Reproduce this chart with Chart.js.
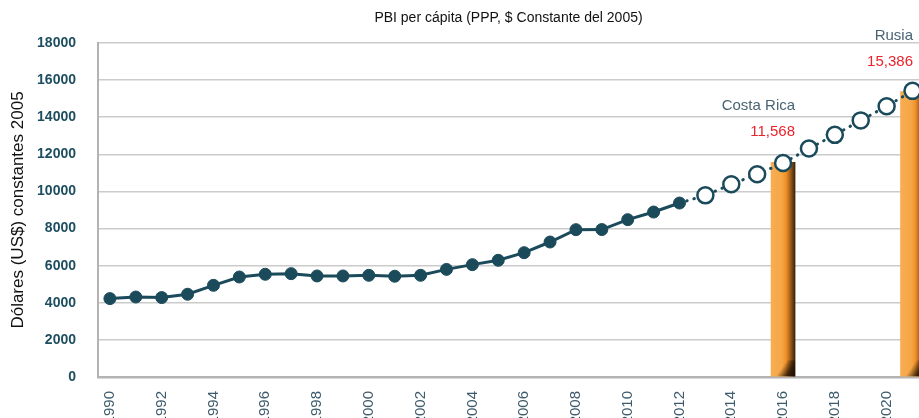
<!DOCTYPE html>
<html>
<head>
<meta charset="utf-8">
<script src="https://cdn.jsdelivr.net/npm/chart.js@4/dist/chart.umd.min.js"></script>
<style>
  html, body { margin: 0; background: #fff; overflow: hidden; }
</style>
</head>
<body>
<!-- a little wider than the window: the plot runs off the right edge, as in the original -->
<canvas id="pbi-chart" width="930" height="418"></canvas>
<script>
// data
const years = [1990, 1991, 1992, 1993, 1994, 1995, 1996, 1997, 1998, 1999, 2000, 2001, 2002, 2003, 2004, 2005,
  2006, 2007, 2008, 2009, 2010, 2011, 2012, 2013, 2014, 2015, 2016, 2017, 2018, 2019, 2020, 2021];
// 1990-2012 observed (filled dots)
const actualValues = [4225, 4310, 4280, 4460, 4940, 5390, 5535, 5570, 5445, 5445, 5480, 5430, 5480, 5800, 6055, 6290,
  6700, 7275, 7940, 7945, 8480, 8890, 9375];
// 2013-2021 projected (hollow dots)
const projectedValues = [9790, 10385, 10925, 11530, 12310, 13050, 13830, 14590, 15420];
const tickYears = [1990, 1992, 1994, 1996, 1998, 2000, 2002, 2004, 2006, 2008, 2010, 2012, 2014, 2016, 2018, 2020];
const yTicks = [0, 2000, 4000, 6000, 8000, 10000, 12000, 14000, 16000, 18000];

const barCountries = ["Costa Rica", "Rusia"];
const barYears = [2016, 2021];
const barValues = [11568, 15386];
const barValueLabels = ["11,568", "15,386"];

const titleText = "PBI per cápita (PPP, $ Constante del 2005)";
const yTitle = "Dólares (US$) constantes 2005";

const FONT = "'Liberation Sans Narrow', 'Liberation Sans', Arial, sans-serif";
const teal = "#1b4a5b";
const lastActual = actualValues.length - 1;
const VISIBLE_RIGHT = 919; // window edge

const allValues = actualValues.concat(projectedValues);
const lineData = years.map((yr, i) => ({ x: yr, y: allValues[i] }));
const barData = barYears.map((yr, i) => ({ x: yr, y: barValues[i] }));

// orange bar with dark right edge
function barFill(ctx) {
  const chart = ctx.chart;
  if (!chart.chartArea || ctx.raw === undefined) return "#f5a442";
  const cx = chart.scales.x.getPixelForValue(ctx.raw.x);
  const g = chart.ctx.createLinearGradient(cx - 12, 0, cx + 12, 0);
  g.addColorStop(0, "#f7ad52");
  g.addColorStop(0.45, "#f6a646");
  g.addColorStop(0.62, "#f1922a");
  g.addColorStop(0.8, "#a3601a");
  g.addColorStop(1, "#3a2209");
  return g;
}

// dark shadow at the foot of each bar
const barFootPlugin = {
  id: "barFoot",
  afterDatasetDraw(chart, args) {
    if (args.index !== 1) return;
    const c = chart.ctx;
    args.meta.data.forEach((bar) => {
      const left = bar.x - bar.width / 2;
      const bottom = bar.base;
      const g = c.createLinearGradient(left, bottom - 16, left + bar.width, bottom);
      g.addColorStop(0, "rgba(40,22,5,0)");
      g.addColorStop(0.45, "rgba(40,22,5,0)");
      g.addColorStop(0.75, "rgba(40,22,5,0.85)");
      g.addColorStop(1, "rgba(30,16,3,1)");
      c.save();
      c.fillStyle = g;
      c.fillRect(left, bottom - 16, bar.width, 16);
      c.restore();
    });
  }
};

// title centred over the plot, plus country labels over the bars
const labelsPlugin = {
  id: "labels",
  afterDraw(chart) {
    const c = chart.ctx;
    const area = chart.chartArea;
    c.save();
    c.fillStyle = "#111";
    c.font = "14px " + FONT;
    c.textAlign = "center";
    c.textBaseline = "middle";
    c.fillText(titleText, (area.left + VISIBLE_RIGHT) / 2, 18);

    const meta = chart.getDatasetMeta(1);
    meta.data.forEach((bar, i) => {
      const right = Math.min(bar.x + bar.width / 2, VISIBLE_RIGHT - 6);
      c.textAlign = "right";
      c.font = "15px " + FONT;
      c.fillStyle = "#e8242c";
      c.fillText(barValueLabels[i], right, bar.y - 30);
      c.fillStyle = "#4a6373";
      c.fillText(barCountries[i], right, bar.y - 56);
    });
    c.restore();
  }
};

new Chart(document.getElementById("pbi-chart"), {
  type: "line",
  data: {
    datasets: [
      {
        type: "line",
        data: lineData,
        order: 1,
        clip: false,
        borderColor: teal,
        borderWidth: 3,
        borderCapStyle: "round",
        tension: 0,
        segment: {
          borderDash: (s) => (s.p0DataIndex >= lastActual ? [0.5, 7] : undefined),
        },
        pointRadius: (c) => (c.dataIndex <= lastActual ? 6 : 8),
        pointBorderWidth: (c) => (c.dataIndex <= lastActual ? 1 : 2.5),
        pointBackgroundColor: (c) => (c.dataIndex <= lastActual ? teal : "#ffffff"),
        pointBorderColor: teal,
      },
      {
        type: "bar",
        data: barData,
        order: 2,
        clip: false,
        barThickness: 24,
        backgroundColor: barFill,
        borderWidth: 0,
      },
    ],
  },
  options: {
    responsive: false,
    animation: false,
    devicePixelRatio: 1,
    layout: { padding: { top: 43, right: 0, bottom: 0, left: 0 } },
    plugins: { legend: { display: false }, tooltip: { enabled: false }, title: { display: false } },
    scales: {
      x: {
        type: "linear",
        offset: false,
        min: 1989.54,
        max: 2021.27,
        afterFit(scale) {
          scale.height = 41;
          scale.paddingLeft = 0;
          scale.paddingRight = 0;
        },
        afterBuildTicks(scale) { scale.ticks = tickYears.map((v) => ({ value: v })); },
        grid: { display: false, drawTicks: false, offset: false },
        border: { color: "#b3b3b3", width: 2.5 },
        ticks: {
          autoSkip: false,
          minRotation: 90,
          maxRotation: 90,
          padding: 14,
          color: "#3d5b6b",
          font: { family: FONT, size: 15 },
          callback: (v) => String(v),
        },
      },
      y: {
        min: 0,
        max: 18000,
        afterFit(scale) {
          scale.width = 98;
          scale.paddingTop = 0;
          scale.paddingBottom = 0;
        },
        afterBuildTicks(scale) { scale.ticks = yTicks.map((v) => ({ value: v })); },
        grid: { color: "#cbcbcb", lineWidth: 1.5, drawTicks: false },
        border: { color: "#b3b3b3", width: 2 },
        ticks: {
          padding: 22,
          color: "#1d4e60",
          font: { family: FONT, size: 14, weight: "bold" },
          callback: (v) => String(v),
        },
        title: {
          display: true,
          text: yTitle,
          color: "#111",
          font: { family: FONT, size: 17 },
          padding: { top: 8, bottom: 0 },
        },
      },
    },
  },
  plugins: [barFootPlugin, labelsPlugin],
});
</script>
</body>
</html>
